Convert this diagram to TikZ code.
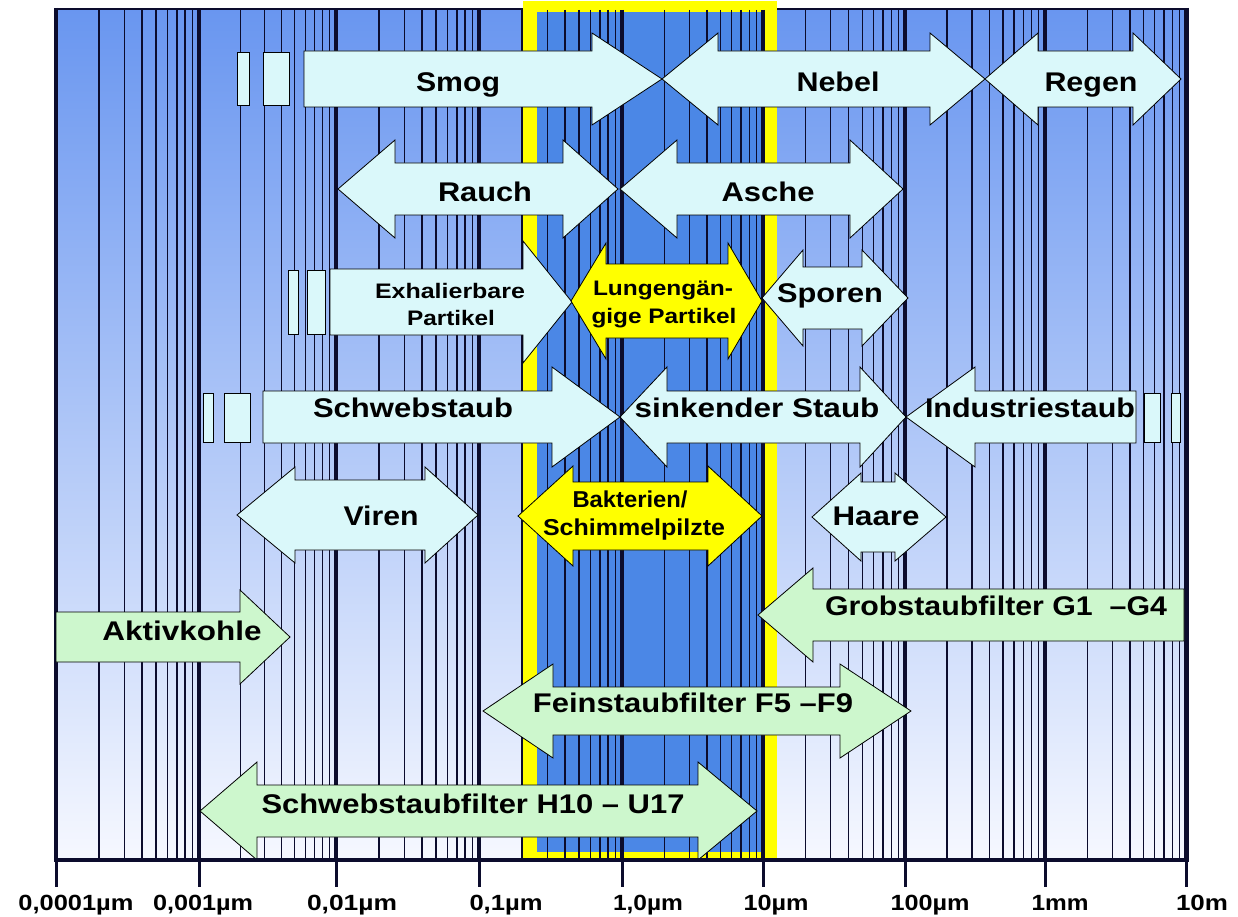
\documentclass[tikz,border=0pt]{standalone}
\usepackage{fontspec}
\setmainfont{Liberation Sans}
\usepackage{graphicx}
\definecolor{arrcyan}{RGB}{218,248,250}
\definecolor{arrgreen}{RGB}{205,247,205}
\definecolor{arryellow}{RGB}{255,255,0}
\definecolor{bgtop}{RGB}{105,150,240}
\definecolor{bgbot}{RGB}{246,248,255}
\definecolor{innerblue}{RGB}{75,135,230}
\definecolor{linecol}{RGB}{12,12,45}
\newcommand\fitw[2]{\resizebox{#1pt}{\height}{#2}}
% double arrow: style, xl, xlb, xrb, xr, yc, shaft half, head half
\newcommand\ArrD[8]{\filldraw[#1] (#2,#6) -- (#3,#6-#8) -- (#3,#6-#7) -- (#4,#6-#7) -- (#4,#6-#8) -- (#5,#6) -- (#4,#6+#8) -- (#4,#6+#7) -- (#3,#6+#7) -- (#3,#6+#8) -- cycle;}
% right arrow: style, x0, xb, xt, yc, shaft half, head half
\newcommand\ArrR[7]{\filldraw[#1] (#2,#5-#6) -- (#3,#5-#6) -- (#3,#5-#7) -- (#4,#5) -- (#3,#5+#7) -- (#3,#5+#6) -- (#2,#5+#6) -- cycle;}
% left arrow: style, xt, xb, x1, yc, shaft half, head half
\newcommand\ArrL[7]{\filldraw[#1] (#2,#5) -- (#3,#5-#7) -- (#3,#5-#6) -- (#4,#5-#6) -- (#4,#5+#6) -- (#3,#5+#6) -- (#3,#5+#7) -- cycle;}
\begin{document}
\begin{tikzpicture}[x=1pt,y=-1pt,
  cy/.style={fill=arrcyan,draw=black,line width=0.8pt},
  gr/.style={fill=arrgreen,draw=black,line width=0.8pt},
  ye/.style={fill=arryellow,draw=black,line width=0.8pt},
  minorline/.style={draw=linecol,line width=1.4pt},
  decline/.style={draw=linecol,line width=4pt},
  big/.style={font=\fontsize{27}{30}\selectfont\bfseries,inner sep=0pt,anchor=base},
  small/.style={font=\fontsize{21}{24}\selectfont\bfseries,inner sep=0pt,anchor=base},
  mid/.style={font=\fontsize{23}{26}\selectfont\bfseries,inner sep=0pt,anchor=base},
  axlbl/.style={font=\fontsize{22}{24}\selectfont\bfseries,inner sep=0pt,anchor=base}]
\useasboundingbox (0,0) rectangle (1238,917);
\fill[white] (0,0) rectangle (1238,917);
% background
\shade[top color=bgtop,bottom color=bgbot] (56,9) rectangle (1186,860);
\draw[linecol,line width=2pt] (56,9) -- (1186,9);
% yellow frame
\fill[arryellow] (523,1) rectangle (777,862);
\fill[innerblue] (537,12) rectangle (765,852);
% minor log lines
\foreach \a/\b in {56/199,199/336,336/479,479/622,622/763,763/905,905/1045,1045/1186}{
  \foreach \k in {2,...,9}{
    \draw[minorline] ({\a+(\b-\a)*log10(\k)},10) -- ({\a+(\b-\a)*log10(\k)},860);
  }
}
\foreach \d in {199,336,479,622,763,905,1045}{
  \draw[decline] (\d,10) -- (\d,860);
}
\draw[decline] (56,8) -- (56,862);
\draw[linecol,line width=5pt] (1186,8) -- (1186,862);
% row 1
\ArrR{cy}{304}{592}{662}{79}{28}{46}
\filldraw[cy] (237,52) rectangle (249,105);
\filldraw[cy] (263,52) rectangle (289,105);
\ArrD{cy}{662}{718}{930}{985}{79}{28}{46}
\ArrD{cy}{985}{1038}{1133}{1181}{79}{28}{46}
% row 2
\ArrD{cy}{338}{395}{563}{618}{189}{26}{49}
\ArrD{cy}{620}{677}{850}{903}{189}{26}{49}
% row 3
\ArrR{cy}{330}{523}{572}{302}{33}{61}
\filldraw[cy] (288,270) rectangle (298,334);
\filldraw[cy] (307,270) rectangle (325,334);
\ArrD{ye}{571}{606}{728}{762}{301}{37}{58}
\ArrD{cy}{762}{803}{862}{908}{298}{31}{48}
% row 4
\ArrR{cy}{263}{552}{620}{417}{26}{50}
\filldraw[cy] (203,393) rectangle (213,442);
\filldraw[cy] (224,393) rectangle (250,442);
\ArrD{cy}{620}{667}{860}{906}{417}{26}{50}
\ArrL{cy}{906}{975}{1136}{417}{26}{50}
\filldraw[cy] (1144,393) rectangle (1160,442);
\filldraw[cy] (1171,393) rectangle (1180,442);
% row 5
\ArrD{cy}{237}{295}{425}{478}{515}{35}{48}
\ArrD{ye}{518}{573}{708}{762}{516}{34}{50}
\ArrD{cy}{812}{861}{895}{946}{517}{35}{44}
% row 6
\ArrR{gr}{56}{240}{290}{637}{25}{47}
\ArrL{gr}{758}{813}{1184}{615}{26}{47}
% row 7
\ArrD{gr}{483}{553}{840}{911}{711}{24}{47}
% row 8
\ArrD{gr}{200}{257}{698}{757}{811}{26}{49}
% labels
\node[big] (smog) at (458,92) {\fitw{84}{Smog}};
\node[big] (nebel) at (838,92) {\fitw{83}{Nebel}};
\node[big] (regen) at (1091,92) {\fitw{93}{Regen}};
\node[big] (rauch) at (485,202) {\fitw{94}{Rauch}};
\node[big] (asche) at (768,202) {\fitw{93}{Asche}};
\node[small] (exh1) at (450,298) {\fitw{150}{Exhalierbare}};
\node[small] (exh2) at (451,325) {\fitw{88}{Partikel}};
\node[small] (lung1) at (663,295) {\fitw{140}{Lungengän-}};
\node[small] (lung2) at (664,323) {\fitw{145}{gige Partikel}};
\node[big] (sporen) at (830,302) {\fitw{106}{Sporen}};
\node[big] (schweb) at (413,417) {\fitw{200}{Schwebstaub}};
\node[big] (sink) at (757,417) {\fitw{245}{sinkender Staub}};
\node[big] (indus) at (1030,417) {\fitw{210}{Industriestaub}};
\node[big] (viren) at (381,525) {\fitw{75}{Viren}};
\node[mid] (bakt1) at (630,507) {\fitw{115}{Bakterien/}};
\node[mid] (bakt2) at (634,535) {\fitw{182}{Schimmelpilzte}};
\node[big] (haare) at (876,525) {\fitw{87}{Haare}};
\node[big] (aktiv) at (182,640) {\fitw{159}{Aktivkohle}};
\node[big] (grob) at (996,615) {\fitw{342}{Grobstaubfilter G1 \ –G4}};
\node[big] (fein) at (693,712) {\fitw{320}{Feinstaubfilter F5 –F9}};
\node[big] (hepa) at (473,813) {\fitw{423}{Schwebstaubfilter H10 – U17}};
% axis
\draw[linecol,line width=4pt] (54,860) -- (1188,860);
\foreach \d in {56,199,336,479,622,763,905,1045,1186}{
  \draw[linecol,line width=3pt] (\d,860) -- (\d,887);
}
\node[axlbl] (l1) at (76,910) {\fitw{115}{0,0001µm}};
\node[axlbl] (l2) at (203,910) {\fitw{100}{0,001µm}};
\node[axlbl] (l3) at (352,910) {\fitw{90}{0,01µm}};
\node[axlbl] (l4) at (506,910) {\fitw{73}{0,1µm}};
\node[axlbl] (l5) at (648,910) {\fitw{70}{1,0µm}};
\node[axlbl] (l6) at (776,910) {\fitw{65}{10µm}};
\node[axlbl] (l7) at (930,910) {\fitw{79}{100µm}};
\node[axlbl] (l8) at (1060,910) {\fitw{57}{1mm}};
\node[axlbl] (l9) at (1202,910) {\fitw{52}{10m}};
\end{tikzpicture}
\end{document}
